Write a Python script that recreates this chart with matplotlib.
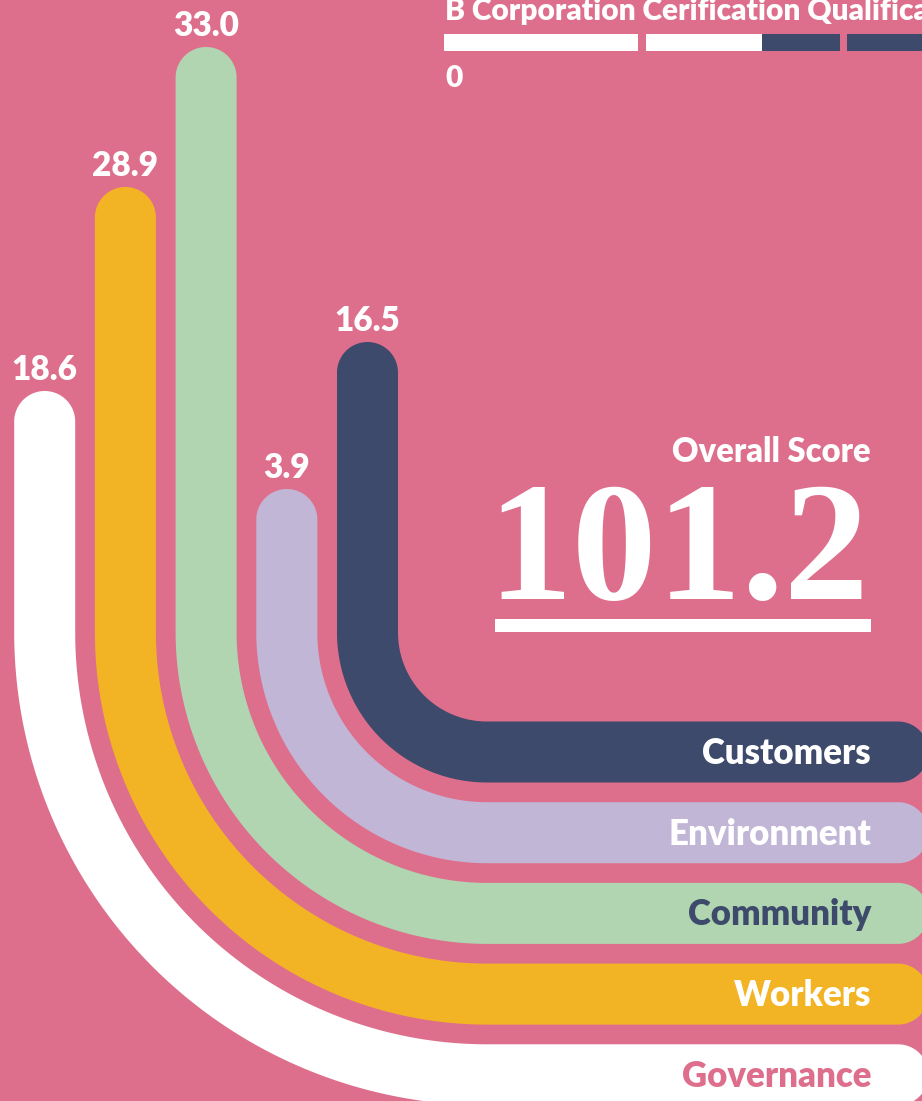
import numpy as np
import matplotlib
matplotlib.use("Agg")
import matplotlib.pyplot as plt
from matplotlib.patches import Polygon, Rectangle

# data, innermost track first
categories = ["Customers", "Environment", "Community", "Workers", "Governance"]
scores = [16.5, 3.9, 33.0, 28.9, 18.6]
# drawn stem length above the bend (px)
stem_length = [260, 113, 555, 415, 211]
overall = 101.2
qualify_at = 80
segment_pts = 50
n_segments = 4

pink = "#DE6F8C"
navy = "#3D4A6B"
bar_colors = [navy, "#C1B6D6", "#B0D5B0", "#F2B425", "#FFFFFF"]
label_colors = ["white", "white", navy, "white", pink]

plt.rcParams["font.family"] = ["Lato", "DejaVu Sans"]
WT = "heavy"

W, H = 922, 1101
fig = plt.figure(figsize=(W / 100, H / 100), dpi=100, facecolor=pink)
ax = fig.add_axes([0, 0, 1, 1])
ax.set_xlim(0, W)
ax.set_ylim(H, 0)
ax.axis("off")
ax.set_facecolor(pink)

cx, cy = 487, 632.5      # common centre of the bends
r0, step = 119.5, 80.7   # radius of inner track, track spacing
hw = 30.5                # half track width
x_end = 898


def track(r, top):
    xs = cx - r
    ro, ri = r + hw, r - hw
    yh = cy + r
    t = np.linspace(0, np.pi, 60)
    a = np.linspace(0, np.pi / 2, 120)
    pts = []
    pts += list(zip(xs + hw * np.cos(t), top - hw * np.sin(t)))
    pts += [(xs - hw, cy)]
    pts += list(zip(cx - ro * np.cos(a), cy + ro * np.sin(a)))
    pts += [(x_end, yh + hw)]
    pts += list(zip(x_end + hw * np.sin(t), yh + hw * np.cos(t)))
    pts += [(cx, yh - hw)]
    pts += list(zip(cx - ri * np.cos(a[::-1]), cy + ri * np.sin(a[::-1])))
    pts += [(xs + hw, top)]
    return np.array(pts), xs, yh


for i, (cat, val) in enumerate(zip(categories, scores)):
    r = r0 + step * i
    top = cy - stem_length[i]
    pts, xs, yh = track(r, top)
    ax.add_patch(Polygon(pts, closed=True, facecolor=bar_colors[i],
                         edgecolor="none", antialiased=True))
    ax.text(xs, top - hw - 11, f"{val:.1f}", ha="center", va="baseline",
            fontsize=24, fontweight=WT, color="white")
    ax.text(871, yh + 12, cat, ha="right", va="baseline",
            fontsize=25, fontweight=WT, color=label_colors[i])

# qualification bar at the top
px_per_pt = 194 / segment_pts
bx0, gap = 444, 7.5
for k in range(n_segments):
    s0 = k * segment_pts
    x0 = bx0 + k * (194 + gap)
    white_part = min(max(qualify_at - s0, 0), segment_pts)
    if white_part > 0:
        ax.add_patch(Rectangle((x0, 34), white_part * px_per_pt, 17,
                               facecolor="white", edgecolor="none"))
    if white_part < segment_pts:
        ax.add_patch(Rectangle((x0 + white_part * px_per_pt, 34),
                               (segment_pts - white_part) * px_per_pt, 17,
                               facecolor=navy, edgecolor="none"))

ax.text(445, 20, "B Corporation Cerification Qualification", ha="left",
        va="baseline", fontsize=21.5, fontweight=WT, color="white")
ax.text(445, 87, "0", ha="left", va="baseline", fontsize=21.5,
        fontweight=WT, color="white")

# overall score
ax.text(871, 462, "Overall Score", ha="right", va="baseline",
        fontsize=23.5, fontweight=WT, color="white")
ax.text(869, 599, f"{overall:.1f}", ha="right", va="baseline",
        fontsize=122, fontweight="bold", color="white",
        family=["Liberation Serif", "DejaVu Serif"])
ax.add_patch(Rectangle((495, 619), 376, 13, facecolor="white", edgecolor="none"))

fig.savefig("out.png", dpi=100, facecolor=pink)
